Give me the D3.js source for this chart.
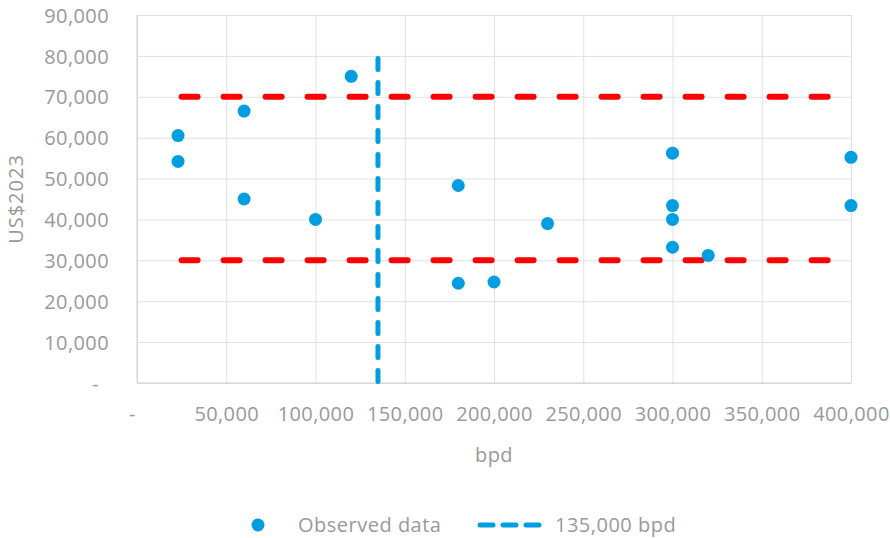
<!DOCTYPE html>
<meta charset="utf-8">
<style>
  body { margin: 0; background: #fff; }
  text { font-family: "Open Sans", sans-serif; fill: #999; }
  .grid line { stroke: #e0e0e0; stroke-width: 1px; }
  .grid path { display: none; }
  .ticks text { font-size: 20px; letter-spacing: 0.4px; }
</style>
<svg width="890" height="538"></svg>
<script src="https://cdn.jsdelivr.net/npm/d3@7/dist/d3.min.js"></script>
<script>
  // observed data (bpd, US$2023)
  var bpd = [23000, 23000, 60000, 60000, 100000, 120000, 180000, 180000, 200000, 230000,
             300000, 300000, 300000, 300000, 320000, 400000, 400000];
  var cost = [60500, 54200, 66500, 45000, 40000, 75000, 48300, 24400, 24700, 39000,
              56200, 43400, 40000, 33200, 31200, 55200, 43400];
  // red band and the 135,000 bpd marker
  var bandLevels = [30000, 70000];
  var bandRange = [25000, 390000];
  var markerBpd = 135000;
  var markerRange = [0, 80000];
  var xTicks = [0, 50000, 100000, 150000, 200000, 250000, 300000, 350000, 400000];
  var yTicks = [0, 10000, 20000, 30000, 40000, 50000, 60000, 70000, 80000, 90000];
  var legendLabels = ["Observed data", "135,000 bpd"];

  var svg = d3.select("svg");
  var pLeft = 137, pRight = 851, pTop = 15, pBottom = 383;

  var x = d3.scaleLinear().domain([0, 400000]).range([pLeft, pRight]);
  var y = d3.scaleLinear().domain([0, 90000]).range([pBottom, pTop]);
  var fmt = function(d) { return d === 0 ? "-" : d3.format(",")(d); };

  // horizontal grid + y labels
  var gy = svg.append("g")
    .attr("class", "grid ticks")
    .attr("transform", "translate(" + pLeft + ",0)")
    .call(d3.axisLeft(y).tickValues(yTicks).tickFormat(fmt)
      .tickSize(-(pRight - pLeft)).tickPadding(28));
  gy.selectAll("text").attr("dy", "0.36em")
    .filter(function(d) { return d === 0; }).attr("dx", "-10");

  // vertical grid + x labels
  var gx = svg.append("g")
    .attr("class", "grid ticks")
    .attr("transform", "translate(0," + pBottom + ")")
    .call(d3.axisBottom(x).tickValues(xTicks).tickFormat(fmt)
      .tickSize(-(pBottom - pTop)).tickPadding(24));
  gx.selectAll("text").filter(function(d) { return d === 0; }).attr("dx", "-5");

  // axis lines
  svg.append("line").attr("x1", pLeft).attr("x2", pLeft).attr("y1", pTop).attr("y2", pBottom)
    .attr("stroke", "#cfcfcf");
  svg.append("line").attr("x1", pLeft).attr("x2", pRight).attr("y1", pBottom).attr("y2", pBottom)
    .attr("stroke", "#cfcfcf");

  // red dashed band lines
  svg.append("g").selectAll("line")
    .data(bandLevels)
    .enter().append("line")
    .attr("x1", x(bandRange[0])).attr("x2", x(bandRange[1]))
    .attr("y1", function(d) { return y(d); })
    .attr("y2", function(d) { return y(d); })
    .attr("stroke", "#ff0000")
    .attr("stroke-width", 6)
    .attr("stroke-linecap", "round")
    .attr("stroke-dasharray", "16,26");

  // blue dashed marker
  svg.append("line")
    .attr("x1", x(markerBpd)).attr("x2", x(markerBpd))
    .attr("y1", y(markerRange[1]) + 2.5).attr("y2", y(markerRange[0]))
    .attr("stroke", "#009ee0")
    .attr("stroke-width", 5)
    .attr("stroke-linecap", "round")
    .attr("stroke-dasharray", "11,13");

  // points
  svg.append("g").selectAll("circle")
    .data(bpd)
    .enter().append("circle")
    .attr("cx", function(d) { return x(d); })
    .attr("cy", function(d, i) { return y(cost[i]); })
    .attr("r", 6.5)
    .attr("fill", "#009ee0");

  // axis titles
  svg.append("text")
    .attr("x", (pLeft + pRight) / 2).attr("y", 455).attr("dy", "0.36em")
    .attr("text-anchor", "middle")
    .style("font-size", "20px").style("letter-spacing", "0.5px")
    .text("bpd");
  svg.append("text")
    .attr("transform", "translate(16," + ((pTop + pBottom) / 2) + ") rotate(-90)")
    .attr("dy", "0.36em")
    .attr("text-anchor", "middle")
    .style("font-size", "20px").style("letter-spacing", "1px")
    .text("US$2023");

  // legend
  var lg = svg.append("g").attr("transform", "translate(0,525)");
  lg.append("circle").attr("cx", 258).attr("cy", 0).attr("r", 6.5).attr("fill", "#009ee0");
  lg.append("line").attr("x1", 480).attr("x2", 540).attr("y1", 0).attr("y2", 0)
    .attr("stroke", "#009ee0").attr("stroke-width", 5)
    .attr("stroke-linecap", "round").attr("stroke-dasharray", "13,10");
  lg.selectAll("text")
    .data(legendLabels)
    .enter().append("text")
    .attr("x", function(d, i) { return i === 0 ? 298 : 555; })
    .attr("y", 0).attr("dy", "0.36em")
    .style("font-size", "20px").style("letter-spacing", "0.5px")
    .text(function(d) { return d; });
</script>
